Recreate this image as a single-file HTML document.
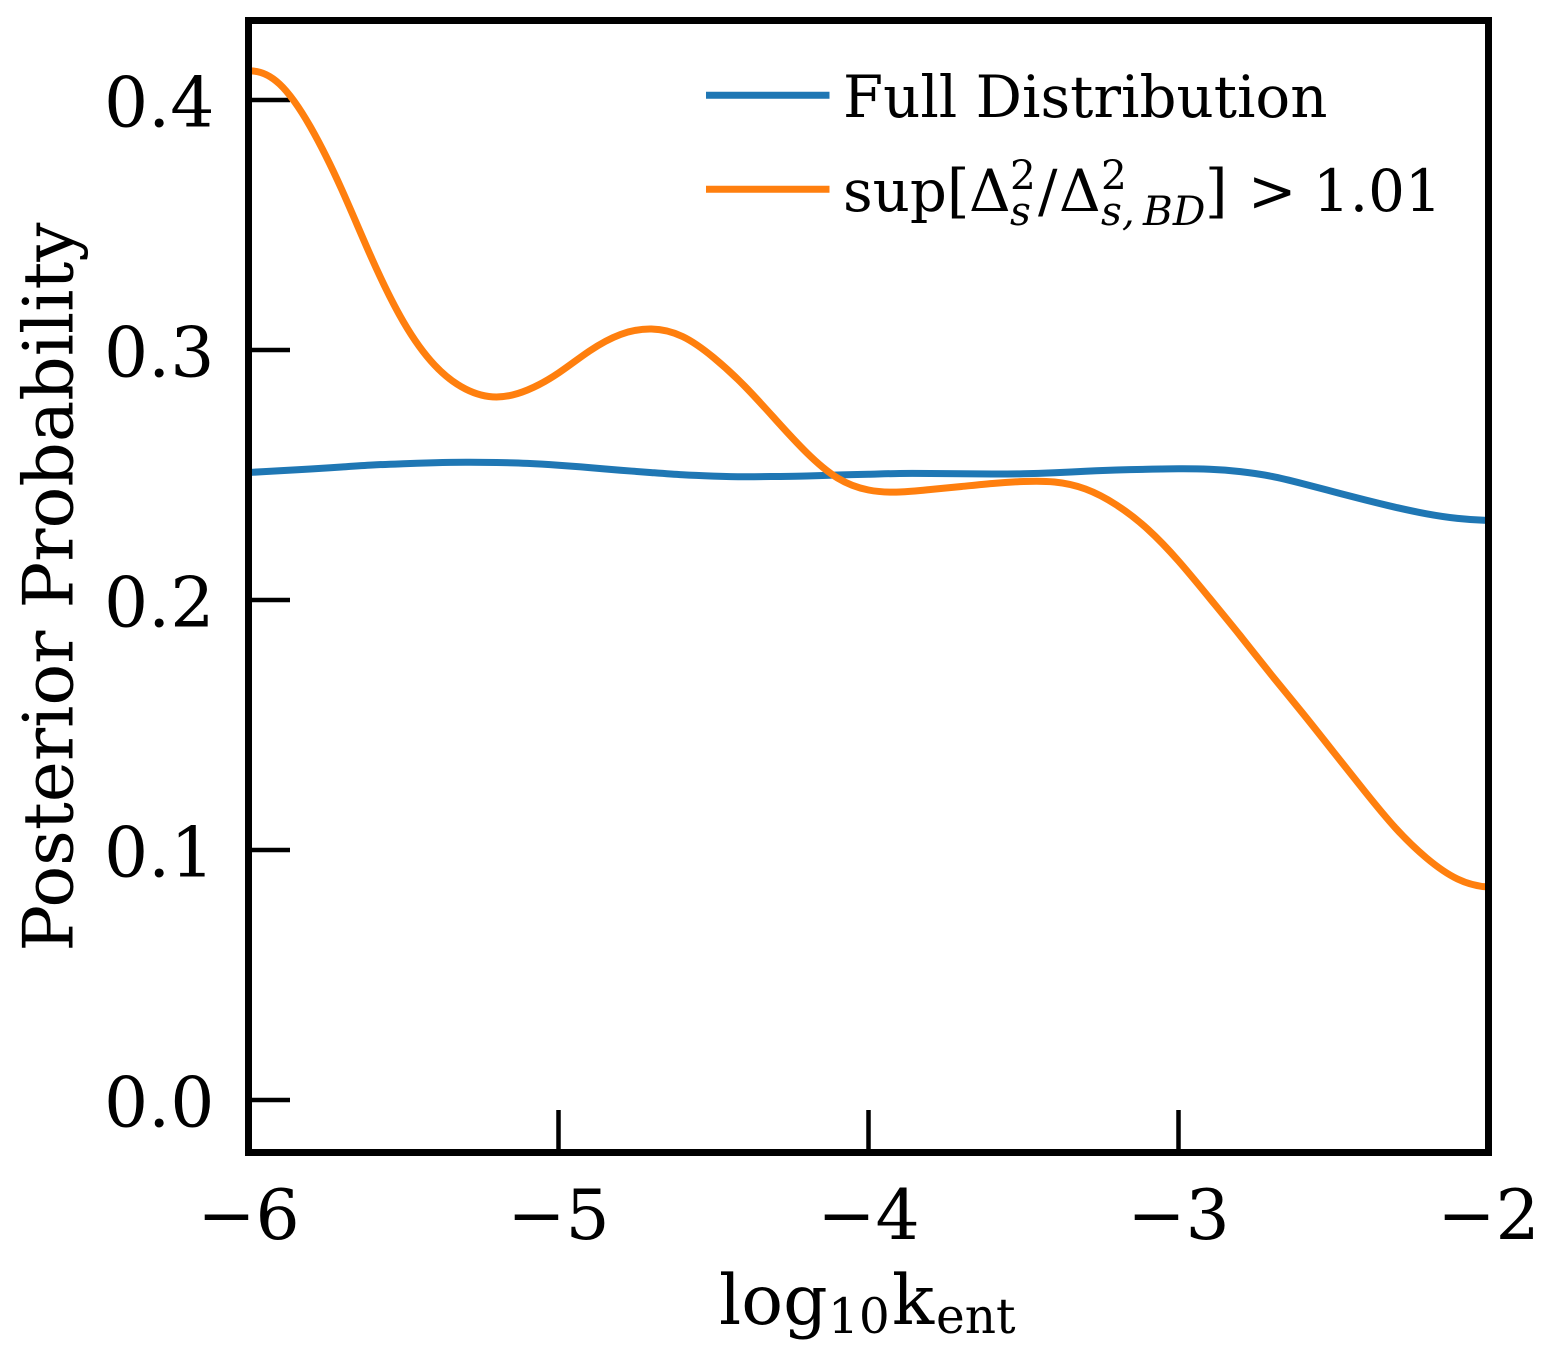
<!DOCTYPE html>
<html lang="en">
<head>
<meta charset="utf-8">
<title>Posterior Probability Chart</title>
<style>
html,body{margin:0;padding:0;background:#fff;}
svg{display:block;}
text{font-family:"DejaVu Serif","Liberation Serif",serif;fill:#000;}
.tick-text{font-size:69.5px;}
.axis-text{font-size:69.5px;}
.axis-sub{font-size:48.6px;}
.legend-text{font-size:57.8px;}
.legend-sub{font-size:40.6px;}
</style>
</head>
<body>
<svg id="chart" xmlns="http://www.w3.org/2000/svg" width="1558" height="1360" viewBox="0 0 1558 1360">
  <rect x="0" y="0" width="1558" height="1360" fill="#ffffff"/>
  <defs>
    <clipPath id="plot-clip"><rect x="248.5" y="20.5" width="1240" height="1132"/></clipPath>
  </defs>
  <g id="ticks"></g>
  <g id="series" clip-path="url(#plot-clip)"></g>
  <rect x="248.5" y="20.5" width="1240" height="1132" fill="none" stroke="#000" stroke-width="7"/>
  <g id="tick-labels"></g>

  <text class="axis-text" transform="translate(72.5,587) rotate(-90)" text-anchor="middle">Posterior Probability</text>

  <g>
    <text class="axis-text" x="719" y="1324">log</text>
    <text class="axis-sub" x="828" y="1333">10</text>
    <text class="axis-text" x="892" y="1324">k</text>
    <text class="axis-sub" x="936" y="1333">ent</text>
  </g>

  <g>
    <g>
      <line x1="706" x2="829.5" y1="95.3" y2="95.3" stroke="#1f77b4" stroke-width="7"/>
      <text class="legend-text" x="843" y="117">Full Distribution</text>
    </g>
    <g>
      <line x1="706" x2="829.5" y1="189.3" y2="189.3" stroke="#ff7f0e" stroke-width="7"/>
      <g>
        <text class="legend-text" x="843" y="211">sup[</text>
        <text class="legend-text" x="969" y="211">Δ</text>
        <text class="legend-sub" x="1010" y="189">2</text>
        <text class="legend-sub" x="1010" y="225" font-style="italic">s</text>
        <text class="legend-text" x="1038" y="211">/</text>
        <text class="legend-text" x="1059" y="211">Δ</text>
        <text class="legend-sub" x="1101" y="189">2</text>
        <text class="legend-sub" x="1101" y="225" font-style="italic">s,</text>
        <text class="legend-sub" x="1143" y="225" font-style="italic">BD</text>
        <text class="legend-text" x="1205" y="211">]</text>
        <text class="legend-text" x="1248" y="211">&gt;</text>
        <text class="legend-text" x="1313" y="211">1.01</text>
      </g>
    </g>
  </g>
</svg>
<script>
const xCategories = [-6.0,-5.9,-5.8,-5.7,-5.6,-5.5,-5.4,-5.3,-5.2,-5.1,-5.0,-4.9,-4.8,-4.7,-4.6,-4.5,-4.4,-4.3,-4.2,-4.1,-4.0,-3.9,-3.8,-3.7,-3.6,-3.5,-3.4,-3.3,-3.2,-3.1,-3.0,-2.9,-2.8,-2.7,-2.6,-2.5,-2.4,-2.3,-2.2,-2.1,-2.0];
const fullDistribution = [0.2510,0.2517,0.2524,0.2532,0.2540,0.2545,0.2549,0.2551,0.2550,0.25464,0.25392,0.25296,0.25192,0.25096,0.25008,0.24956,0.2493,0.2494,0.2496,0.2500,0.2503,0.2506,0.2506,0.2505,0.2504,0.2505,0.2509,0.2515,0.2520,0.2523,0.2525,0.2523,0.25136,0.24948,0.24656,0.24332,0.24008,0.23708,0.23448,0.23264,0.2318];
const supCut = [0.4116,0.4064,0.3892,0.3644,0.3360,0.3112,0.2940,0.2844,0.2812,0.2840,0.2908,0.2996,0.3062,0.3084,0.3054,0.2970,0.2856,0.2722,0.2590,0.2488,0.2440,0.2432,0.2442,0.2454,0.2466,0.2474,0.2472,0.2444,0.2380,0.2284,0.2156,0.2008,0.1856,0.1700,0.1548,0.1392,0.1236,0.1088,0.0968,0.0884,0.0852];
const supCutEdgeStart = 0.25;
const xTickValues = [-6,-5,-4,-3,-2];
const xTickLabels = ["\u22126","\u22125","\u22124","\u22123","\u22122"];
const yTickValues = [0,0.1,0.2,0.3,0.4];
const yTickLabels = ["0.0","0.1","0.2","0.3","0.4"];

const SVG_NS = "http://www.w3.org/2000/svg";
function xScale(v){ return 248.5 + (v + 6) * 310; }
function yScale(v){ return 1100 - v * 2500; }

/* Clamped cubic spline through the data, expressed as Bezier segments. */
function smoothPath(xs, ys){
  const n = xs.length;
  const px = xs.map(xScale);
  const py = ys.map(yScale);
  const h = (px[n - 1] - px[0]) / (n - 1);
  const m = new Array(n).fill(0);
  m[0] = (-3 * py[0] + 4 * py[1] - py[2]) / (2 * h);
  m[n - 1] = (3 * py[n - 1] - 4 * py[n - 2] + py[n - 3]) / (2 * h);
  const cp = new Array(n).fill(0);
  const dp = new Array(n).fill(0);
  for (let i = 1; i < n - 1; i++){
    let r = 3 * (py[i + 1] - py[i - 1]) / h;
    if (i === 1) r -= m[0];
    if (i === n - 2) r -= m[n - 1];
    const denom = 4 - (i > 1 ? cp[i - 1] : 0);
    cp[i] = 1 / denom;
    dp[i] = (r - (i > 1 ? dp[i - 1] : 0)) / denom;
  }
  for (let i = n - 2; i >= 1; i--){
    m[i] = dp[i] - (i < n - 2 ? cp[i] * m[i + 1] : 0);
  }
  let d = "M" + px[0].toFixed(2) + " " + py[0].toFixed(2);
  for (let i = 0; i < n - 1; i++){
    const seg = px[i + 1] - px[i];
    d += "C" + (px[i] + seg / 3).toFixed(2) + " " + (py[i] + m[i] * seg / 3).toFixed(2) + " " +
         (px[i + 1] - seg / 3).toFixed(2) + " " + (py[i + 1] - m[i + 1] * seg / 3).toFixed(2) + " " +
         px[i + 1].toFixed(2) + " " + py[i + 1].toFixed(2);
  }
  return d;
}

const tickGroup = document.getElementById("ticks");
const labelGroup = document.getElementById("tick-labels");
const seriesGroup = document.getElementById("series");

xTickValues.forEach(function(v, i){
  if (i > 0 && i < xTickValues.length - 1){
    const t = document.createElementNS(SVG_NS, "line");
    
    
    t.setAttribute("x1", xScale(v)); t.setAttribute("x2", xScale(v));
    t.setAttribute("y1", 1152); t.setAttribute("y2", 1110);
    t.setAttribute("stroke", "#000"); t.setAttribute("stroke-width", "4.5");
    tickGroup.appendChild(t);
  }
  const l = document.createElementNS(SVG_NS, "text");
  
  
  l.setAttribute("class", "tick-text");
  l.setAttribute("x", xScale(v));
  l.setAttribute("y", 1239);
  l.setAttribute("text-anchor", "middle");
  l.textContent = xTickLabels[i];
  labelGroup.appendChild(l);
});

yTickValues.forEach(function(v, i){
  const t = document.createElementNS(SVG_NS, "line");
  
  
  t.setAttribute("x1", 248.5); t.setAttribute("x2", 290);
  t.setAttribute("y1", yScale(v)); t.setAttribute("y2", yScale(v));
  t.setAttribute("stroke", "#000"); t.setAttribute("stroke-width", "4.5");
  tickGroup.appendChild(t);
  const l = document.createElementNS(SVG_NS, "text");
  
  
  l.setAttribute("class", "tick-text");
  l.setAttribute("x", 214.5);
  l.setAttribute("y", yScale(v) + 26.5);
  l.setAttribute("text-anchor", "end");
  l.textContent = yTickLabels[i];
  labelGroup.appendChild(l);
});

const fullLine = document.createElementNS(SVG_NS, "path");


fullLine.setAttribute("d", smoothPath(xCategories, fullDistribution));
fullLine.setAttribute("fill", "none");
fullLine.setAttribute("stroke", "#1f77b4");
fullLine.setAttribute("stroke-width", "7");
seriesGroup.appendChild(fullLine);

const cutLine = document.createElementNS(SVG_NS, "path");


cutLine.setAttribute("d", "M" + xScale(xCategories[0]) + " " + yScale(supCutEdgeStart) + "L" + smoothPath(xCategories, supCut).slice(1));
cutLine.setAttribute("fill", "none");
cutLine.setAttribute("stroke", "#ff7f0e");
cutLine.setAttribute("stroke-width", "7");
cutLine.setAttribute("stroke-linejoin", "round");
seriesGroup.appendChild(cutLine);
</script>
</body>
</html>
